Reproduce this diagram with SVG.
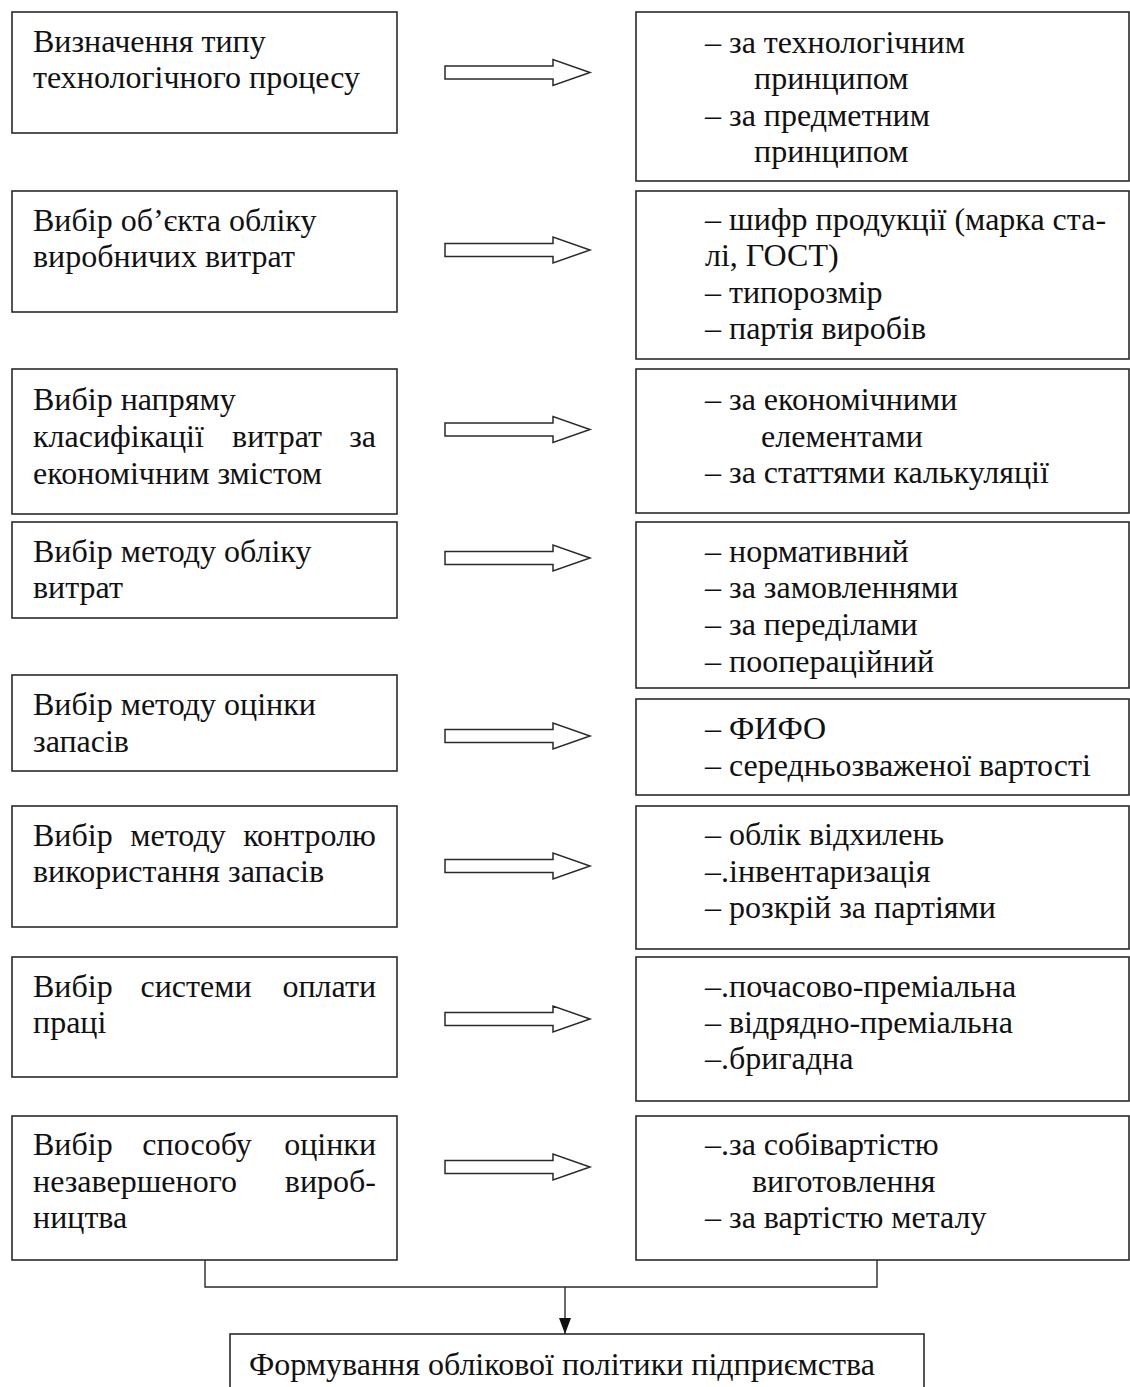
<svg xmlns="http://www.w3.org/2000/svg" width="1130" height="1387" viewBox="0 0 1130 1387">
<style>
.box{fill:#fff;stroke:#2a2a2a;stroke-width:1.6}
.arr{fill:#fff;stroke:#2a2a2a;stroke-width:1.5;stroke-linejoin:miter}
.t{font-family:"Liberation Serif","Times New Roman",serif;font-size:32px;fill:#111}
.m{text-anchor:middle}
.e{text-anchor:end}
.con{fill:none;stroke:#2a2a2a;stroke-width:1.4}
</style>
<defs>
<marker id="ah" markerWidth="16" markerHeight="12" refX="16" refY="6" orient="auto" markerUnits="userSpaceOnUse" viewBox="0 0 16 12">
<path d="M0,0 L16,6 L0,12 Z" fill="#111"/>
</marker>
<polygon id="fat" points="0,-6.5 108,-6.5 108,-13 145,0 108,13 108,6.5 0,6.5"/>
</defs>

<g id="L1"><rect class="box" x="12" y="12" width="385" height="121"/>
<text class="t" x="33" y="52">Визначення типу</text>
<text class="t" x="33" y="88">технологічного процесу</text></g>

<g id="L2"><rect class="box" x="12" y="191" width="385" height="121"/>
<text class="t" x="33" y="231">Вибір об’єкта обліку</text>
<text class="t" x="33" y="267">виробничих витрат</text></g>

<g id="L3"><rect class="box" x="12" y="369" width="385" height="145"/>
<text class="t" x="33" y="410">Вибір напряму</text>
<text class="t" x="33" y="447">класифікації</text><text class="t m" x="277" y="447">витрат</text><text class="t e" x="376" y="447">за</text>
<text class="t" x="33" y="484">економічним змістом</text></g>

<g id="L4"><rect class="box" x="12" y="522" width="385" height="96"/>
<text class="t" x="33" y="562">Вибір методу обліку</text>
<text class="t" x="33" y="598">витрат</text></g>

<g id="L5"><rect class="box" x="12" y="675" width="385" height="96"/>
<text class="t" x="33" y="715">Вибір методу оцінки</text>
<text class="t" x="33" y="752">запасів</text></g>

<g id="L6"><rect class="box" x="12" y="806" width="385" height="121"/>
<text class="t" x="33" y="846">Вибір</text><text class="t m" x="178" y="846">методу</text><text class="t e" x="376" y="846">контролю</text>
<text class="t" x="33" y="882">використання запасів</text></g>

<g id="L7"><rect class="box" x="12" y="957" width="385" height="120"/>
<text class="t" x="33" y="997">Вибір</text><text class="t m" x="196" y="997">системи</text><text class="t e" x="376" y="997">оплати</text>
<text class="t" x="33" y="1033">праці</text></g>

<g id="L8"><rect class="box" x="12" y="1116" width="385" height="144"/>
<text class="t" x="33" y="1155">Вибір</text><text class="t m" x="197" y="1155">способу</text><text class="t e" x="376" y="1155">оцінки</text>
<text class="t" x="33" y="1192">незавершеного</text><text class="t e" x="376" y="1192">вироб-</text>
<text class="t" x="33" y="1228">ництва</text></g>

<g id="R1"><rect class="box" x="636" y="12" width="493" height="169"/>
<text class="t" x="705" y="53">– за технологічним</text>
<text class="t" x="754" y="89">принципом</text>
<text class="t" x="705" y="126">– за предметним</text>
<text class="t" x="754" y="162">принципом</text></g>

<g id="R2"><rect class="box" x="636" y="191" width="493" height="168"/>
<text class="t" x="705" y="230">– шифр продукції (марка ста-</text>
<text class="t" x="705" y="266">лі, ГОСТ)</text>
<text class="t" x="705" y="303">– типорозмір</text>
<text class="t" x="705" y="339">– партія виробів</text></g>

<g id="R3"><rect class="box" x="636" y="369" width="493" height="144"/>
<text class="t" x="705" y="410">– за економічними</text>
<text class="t" x="761" y="447">елементами</text>
<text class="t" x="705" y="483">– за статтями калькуляції</text></g>

<g id="R4"><rect class="box" x="636" y="522" width="493" height="166"/>
<text class="t" x="705" y="562">– нормативний</text>
<text class="t" x="705" y="598">– за замовленнями</text>
<text class="t" x="705" y="635">– за переділами</text>
<text class="t" x="705" y="672">– поопераційний</text></g>

<g id="R5"><rect class="box" x="636" y="699" width="493" height="96"/>
<text class="t" x="705" y="739">– ФИФО</text>
<text class="t" x="705" y="776">– середньозваженої вартості</text></g>

<g id="R6"><rect class="box" x="636" y="806" width="493" height="143"/>
<text class="t" x="705" y="845">– облік відхилень</text>
<text class="t" x="705" y="882">–.інвентаризація</text>
<text class="t" x="705" y="918">– розкрій за партіями</text></g>

<g id="R7"><rect class="box" x="636" y="957" width="493" height="144"/>
<text class="t" x="705" y="997">–.почасово-преміальна</text>
<text class="t" x="705" y="1033">– відрядно-преміальна</text>
<text class="t" x="705" y="1069">–.бригадна</text></g>

<g id="R8"><rect class="box" x="636" y="1116" width="493" height="144"/>
<text class="t" x="705" y="1155">–.за собівартістю</text>
<text class="t" x="752" y="1192">виготовлення</text>
<text class="t" x="705" y="1228">– за вартістю металу</text></g>

<g id="B"><rect class="box" x="230" y="1334" width="694" height="80"/>
<text class="t" x="249" y="1375">Формування облікової політики підприємства</text></g>

<g id="connectors">
<use href="#fat" class="arr" x="445" y="72.5"/>
<use href="#fat" class="arr" x="445" y="250"/>
<use href="#fat" class="arr" x="445" y="429.5"/>
<use href="#fat" class="arr" x="445" y="558"/>
<use href="#fat" class="arr" x="445" y="736"/>
<use href="#fat" class="arr" x="445" y="866"/>
<use href="#fat" class="arr" x="445" y="1019"/>
<use href="#fat" class="arr" x="445" y="1167"/>
<polyline class="con" points="205,1260 205,1287 877,1287 877,1260"/>
<line class="con" x1="565" y1="1287" x2="565" y2="1334" marker-end="url(#ah)"/>
</g>
</svg>
